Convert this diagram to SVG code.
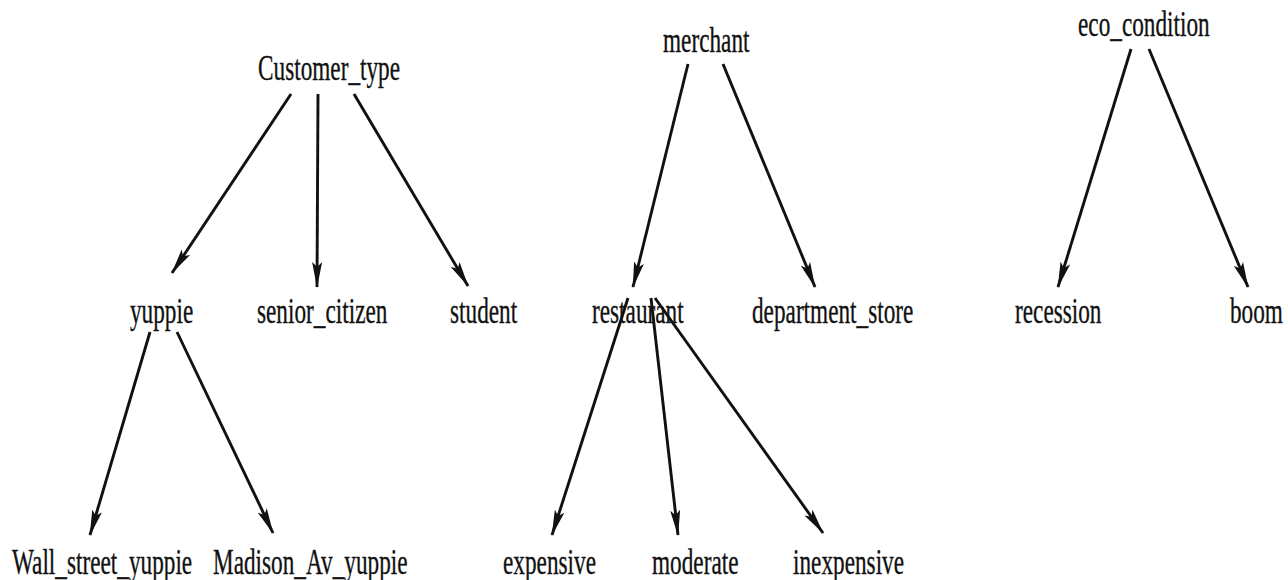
<svg xmlns="http://www.w3.org/2000/svg" width="1288" height="580" viewBox="0 0 1288 580">
<style>
.lbl{font-family:"Liberation Serif","Times New Roman",serif;font-size:35.5px;fill:#111;stroke:#111;stroke-width:0.35;}
.edge{stroke:#111;stroke-width:2.9;fill:none;marker-end:url(#ah);}
</style>
<defs>
<marker id="ah" markerUnits="userSpaceOnUse" viewBox="0 0 26 11" markerWidth="26" markerHeight="11" refX="25" refY="5.5" orient="auto">
<path d="M0,0.5 L26,5.5 L0,10.5 L5,5.5 Z" fill="#111"/>
</marker>
</defs>
<rect width="1288" height="580" fill="#fff"/>
<g id="connectors">
<line class="edge" x1="291" y1="94" x2="172" y2="273"/>
<line class="edge" x1="318" y1="94" x2="317" y2="287"/>
<line class="edge" x1="354" y1="94" x2="468" y2="286"/>
<line class="edge" x1="688" y1="64" x2="633" y2="287"/>
<line class="edge" x1="723" y1="64" x2="815" y2="287"/>
<line class="edge" x1="1131" y1="49" x2="1058" y2="287"/>
<line class="edge" x1="1149" y1="49" x2="1248" y2="287"/>
<line class="edge" x1="150" y1="332" x2="90" y2="535"/>
<line class="edge" x1="177" y1="332" x2="273" y2="533"/>
<line class="edge" x1="628" y1="298" x2="552" y2="535"/>
<line class="edge" x1="651" y1="298" x2="678" y2="535"/>
<line class="edge" x1="655" y1="298" x2="823" y2="533"/>
</g>
<g id="n-customer_type"><text class="lbl" transform="translate(258,80) scale(0.655,1)">Customer_type</text></g>
<g id="n-merchant"><text class="lbl" transform="translate(663,52) scale(0.655,1)">merchant</text></g>
<g id="n-eco_condition"><text class="lbl" transform="translate(1078,36) scale(0.655,1)">eco_condition</text></g>
<g id="n-yuppie"><text class="lbl" transform="translate(130,323) scale(0.655,1)">yuppie</text></g>
<g id="n-senior_citizen"><text class="lbl" transform="translate(257,323) scale(0.655,1)">senior_citizen</text></g>
<g id="n-student"><text class="lbl" transform="translate(450,323) scale(0.655,1)">student</text></g>
<g id="n-restaurant"><text class="lbl" transform="translate(592,323) scale(0.655,1)">restaurant</text></g>
<g id="n-department_store"><text class="lbl" transform="translate(752,323) scale(0.655,1)">department_store</text></g>
<g id="n-recession"><text class="lbl" transform="translate(1015,323) scale(0.655,1)">recession</text></g>
<g id="n-boom"><text class="lbl" transform="translate(1230,323) scale(0.655,1)">boom</text></g>
<g id="n-wall_street_yuppie"><text class="lbl" transform="translate(12,574) scale(0.655,1)">Wall_street_yuppie</text></g>
<g id="n-madison_av_yuppie"><text class="lbl" transform="translate(213,574) scale(0.655,1)">Madison_Av_yuppie</text></g>
<g id="n-expensive"><text class="lbl" transform="translate(503,574) scale(0.655,1)">expensive</text></g>
<g id="n-moderate"><text class="lbl" transform="translate(652,574) scale(0.655,1)">moderate</text></g>
<g id="n-inexpensive"><text class="lbl" transform="translate(793,574) scale(0.655,1)">inexpensive</text></g>
</svg>
